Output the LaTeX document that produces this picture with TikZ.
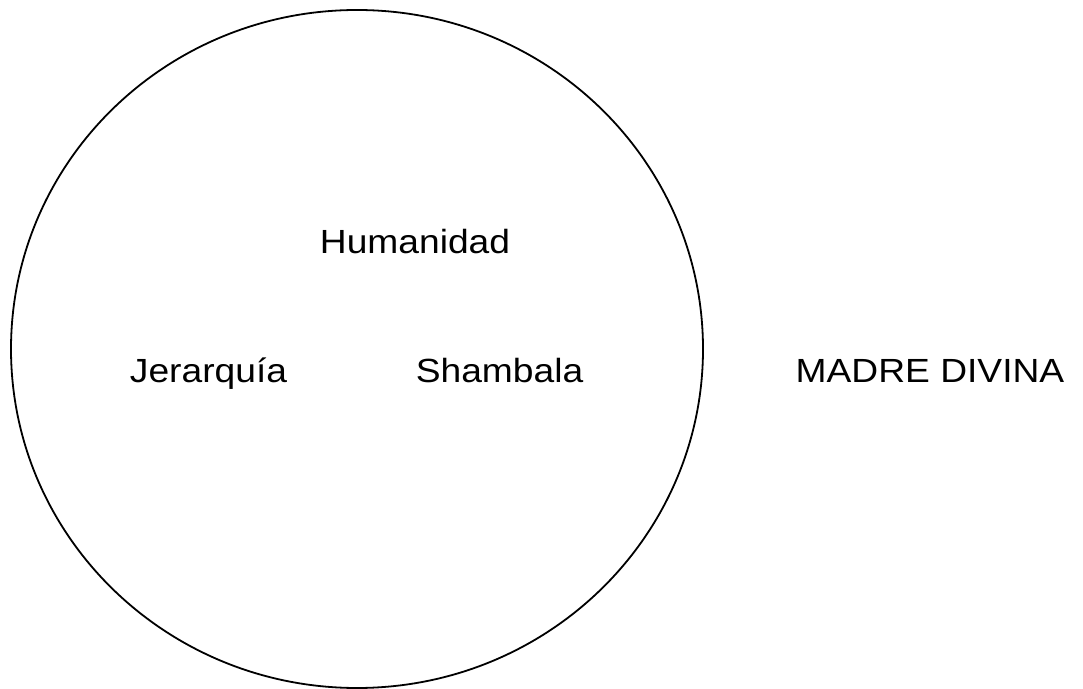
\documentclass[tikz,border=0pt]{standalone}
\usepackage{fontspec}
\setmainfont{Liberation Sans}
\tikzset{
  lbl/.style={anchor=base, inner sep=0pt, font=\fontsize{33.5pt}{40pt}\selectfont},
}
\newcommand{\wtext}[1]{\scalebox{1.11}[1]{#1}}
\begin{document}
\begin{tikzpicture}[x=1pt,y=1pt]
\useasboundingbox (0,0) rectangle (1083,688);
\draw[line width=1.8pt] (357,339) ellipse [x radius=346, y radius=339];
\node[lbl] (hum) at (415,434) {\wtext{Humanidad}};
\node[lbl] (jer) at (208.5,305) {\wtext{Jerarquía}};
\node[lbl] (sha) at (499.5,305) {\wtext{Shambala}};
\node[lbl] (mad) at (930,305) {\wtext{MADRE DIVINA}};
\end{tikzpicture}
\end{document}
